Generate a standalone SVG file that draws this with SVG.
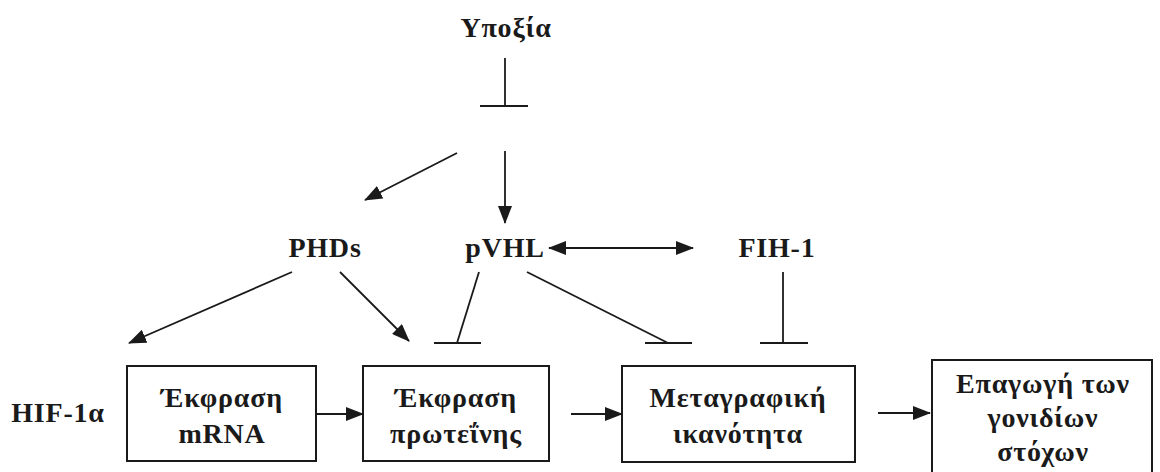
<svg xmlns="http://www.w3.org/2000/svg" width="1160" height="472" viewBox="0 0 1160 472">
<style>
text{font-family:"Liberation Serif","Times New Roman",serif;font-weight:bold;font-size:28px;letter-spacing:0.8px;fill:#1a1a1a;text-anchor:middle}
.box{fill:#fff;stroke:#1a1a1a;stroke-width:2}
.ln{stroke:#1a1a1a;stroke-width:1.8;fill:none}
.arr{marker-end:url(#ah)}
</style>
<defs>
<marker id="ah" markerUnits="userSpaceOnUse" markerWidth="18" markerHeight="14" refX="17" refY="7" orient="auto">
<path d="M0,0 L18,7 L0,14 Z" fill="#1a1a1a"/>
</marker>
</defs>
<rect width="1160" height="472" fill="#fff"/>
<g id="hypoxia"><text x="506" y="37">Υποξία</text></g>
<g id="phds"><text x="325" y="257">PHDs</text></g>
<g id="pvhl"><text x="505" y="257">pVHL</text></g>
<g id="fih1"><text x="777" y="257">FIH-1</text></g>
<g id="hif1a"><text x="58" y="422">HIF-1α</text></g>
<g id="mrna"><rect class="box" x="127" y="366" width="189" height="95"/><text x="222" y="407">Έκφραση</text><text x="222" y="443">mRNA</text></g>
<g id="protein"><rect class="box" x="363" y="366" width="186" height="95"/><text x="456" y="407">Έκφραση</text><text x="456" y="443">πρωτεΐνης</text></g>
<g id="transcr"><rect class="box" x="622" y="366" width="233" height="96"/><text x="738" y="407">Μεταγραφική</text><text x="738" y="443">ικανότητα</text></g>
<g id="targets"><rect class="box" x="932" y="360" width="220" height="120"/><text x="1043" y="393">Επαγωγή των</text><text x="1043" y="427">γονιδίων</text><text x="1043" y="461">στόχων</text></g>
<g id="connectors">
<line class="ln" x1="505" y1="58" x2="505" y2="106"/><line class="ln" x1="480" y1="106" x2="528" y2="106"/>
<line class="ln arr" x1="457" y1="153" x2="365" y2="200"/>
<line class="ln arr" x1="505" y1="151" x2="505" y2="223"/>
<line class="ln arr" x1="600" y1="248" x2="693" y2="248"/>
<line class="ln arr" x1="600" y1="248" x2="549" y2="248"/>
<line class="ln arr" x1="292" y1="272" x2="129" y2="343"/>
<line class="ln arr" x1="340" y1="272" x2="409" y2="341"/>
<line class="ln" x1="479" y1="272" x2="457" y2="343"/><line class="ln" x1="434" y1="343" x2="481" y2="343"/>
<line class="ln" x1="527" y1="272" x2="668" y2="343"/><line class="ln" x1="645" y1="343" x2="692" y2="343"/>
<line class="ln" x1="783" y1="272" x2="783" y2="343"/><line class="ln" x1="760" y1="343" x2="808" y2="343"/>
<line class="ln arr" x1="316" y1="414" x2="363" y2="414"/>
<line class="ln arr" x1="571" y1="414" x2="622" y2="414"/>
<line class="ln arr" x1="878" y1="413" x2="930" y2="413"/>
</g>
</svg>
